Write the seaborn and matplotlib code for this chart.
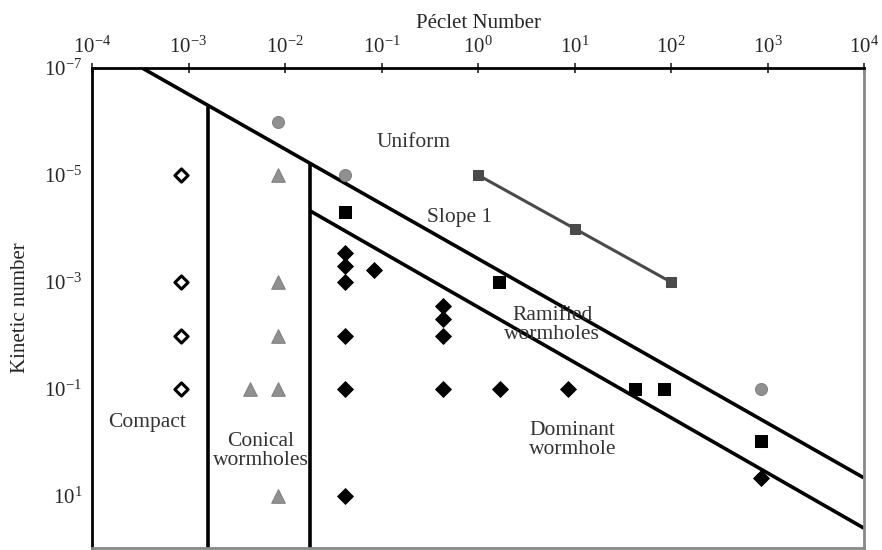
import numpy as np
import pandas as pd
import seaborn as sns
import matplotlib.pyplot as plt
from matplotlib.ticker import FixedLocator, NullLocator, LogFormatterSciNotation

# data points (Peclet number vs kinetic number)
compact_pe = [8.3e-4, 8.3e-4, 8.3e-4, 8.3e-4]
compact_k = [1e-5, 1e-3, 1e-2, 1e-1]

conical_pe = [8.5e-3, 8.5e-3, 8.5e-3, 8.5e-3, 4.3e-3, 8.5e-3]
conical_k = [1e-5, 1e-3, 1e-2, 1e-1, 1e-1, 10]

uniform_pe = [8.5e-3, 0.042, 850]
uniform_k = [1e-6, 1e-5, 1e-1]

ramified_pe = [0.042, 1.66, 42, 85, 850]
ramified_k = [4.9e-5, 1e-3, 1e-1, 1e-1, 0.93]

dominant_pe = [0.042, 0.042, 0.042, 0.042, 0.042, 0.042, 0.083,
               0.43, 0.43, 0.43, 0.43, 1.7, 8.5, 850]
dominant_k = [2.9e-4, 5e-4, 1e-3, 1e-2, 1e-1, 10, 6e-4,
              2.8e-3, 4.9e-3, 1e-2, 1e-1, 1e-1, 1e-1, 4.6]

# slope-1 reference
slope_pe = [1, 10, 100]
slope_k = [1e-5, 1e-4, 1e-3]

# regime boundaries
upper_pe = [10**-3.48, 1e4]
upper_k = [1e-7, 10**0.66]
lower_pe = [10**-1.74, 1e4]
lower_k = [10**-4.33, 10**1.6]
vert1_pe = [10**-2.8, 10**-2.8]
vert1_k = [10**-6.3, 100]
vert2_pe = [10**-1.74, 10**-1.74]
vert2_k = [10**-5.22, 100]

xticks = [1e-4, 1e-3, 1e-2, 1e-1, 1e0, 1e1, 1e2, 1e3, 1e4]
yticks = [1e-7, 1e-5, 1e-3, 1e-1, 1e1]

# region labels: (text, Pe, K)
region_labels = ['Uniform', 'Slope 1', 'Ramified\nwormholes', 'Compact',
                 'Conical\nwormholes', 'Dominant\nwormhole']
label_pe = [0.214, 0.65, 5.9, 3.7e-4, 5.6e-3, 9.6]
label_k = [2.5e-6, 6.2e-5, 6.3e-3, 0.42, 1.44, 0.89]

sns.set_style("white")
plt.rcParams['font.family'] = ['Liberation Serif', 'DejaVu Serif']
plt.rcParams['mathtext.fontset'] = 'stix'

fig = plt.figure(figsize=(8.82, 5.5), dpi=100)
ax = fig.add_axes([92 / 882, 2 / 550, 772 / 882, 480 / 550])
ax.set_xscale('log')
ax.set_yscale('log')

# boundaries
for px, py in [(upper_pe, upper_k), (lower_pe, lower_k), (vert1_pe, vert1_k), (vert2_pe, vert2_k)]:
    ax.plot(px, py, color='black', lw=2.6, solid_capstyle='butt', zorder=2)

sns.lineplot(x=slope_pe, y=slope_k, ax=ax, color='#4a4a4a', lw=2.2,
             marker='s', markersize=6.5, markeredgecolor='#4a4a4a', zorder=3)

sns.scatterplot(x=compact_pe, y=compact_k, ax=ax, marker='D', s=45,
                facecolor='white', edgecolor='black', linewidth=2.2, zorder=4)
sns.scatterplot(x=conical_pe, y=conical_k, ax=ax, marker='^', s=95,
                color='#909090', edgecolor='#808080', zorder=4)
sns.scatterplot(x=uniform_pe, y=uniform_k, ax=ax, marker='o', s=75,
                color='#909090', edgecolor='#808080', zorder=4)
sns.scatterplot(x=ramified_pe, y=ramified_k, ax=ax, marker='s', s=85,
                color='black', edgecolor='black', zorder=4)
sns.scatterplot(x=dominant_pe, y=dominant_k, ax=ax, marker='D', s=65,
                color='black', edgecolor='black', zorder=4)

ax.set_xlim(1e-4, 1e4)
ax.set_ylim(10**1.97, 1e-7)

ax.xaxis.set_major_locator(FixedLocator(xticks))
ax.xaxis.set_minor_locator(NullLocator())
ax.yaxis.set_major_locator(FixedLocator(yticks))
ax.yaxis.set_minor_locator(NullLocator())
ax.xaxis.set_major_formatter(LogFormatterSciNotation())
ax.yaxis.set_major_formatter(LogFormatterSciNotation())
ax.xaxis.tick_top()
ax.xaxis.set_label_position('top')
ax.tick_params(axis='x', direction='inout', length=7, width=1.2, labelsize=15, pad=4)
ax.tick_params(axis='y', direction='out', length=4, width=1.2, labelsize=15, pad=3)

ax.set_xlabel('Péclet Number', fontsize=15, labelpad=6)
ax.set_ylabel('Kinetic number', fontsize=15, labelpad=10)

for side in ['top', 'left']:
    ax.spines[side].set_color('black')
    ax.spines[side].set_linewidth(2)
for side in ['right', 'bottom']:
    ax.spines[side].set_color('#888888')
    ax.spines[side].set_linewidth(2)

for text, pe, k in zip(region_labels, label_pe, label_k):
    ax.text(pe, k, text, fontsize=15.5, color='#333333', ha='center',
            va='center', linespacing=1.0, zorder=5)

fig.savefig('out.png', dpi=100)
